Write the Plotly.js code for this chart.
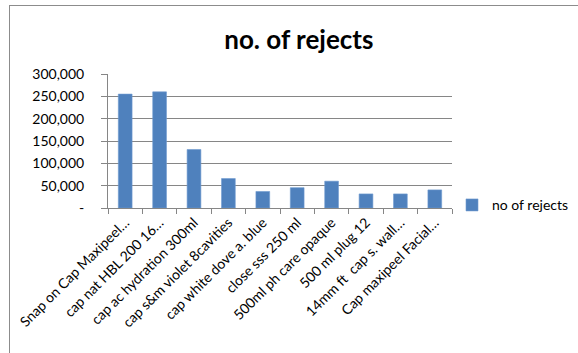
<!DOCTYPE html>
<html>
<head>
<meta charset="utf-8">
<script src="https://cdn.plot.ly/plotly-3.0.1.min.js"></script>
<style>
  html, body { margin: 0; padding: 0; background: #ffffff; }
  #wrap { position: relative; width: 578px; height: 353px; overflow: hidden; }
  #chart { position: absolute; left: 0; top: 0; width: 578px; height: 353px; }
  #frame { position: absolute; left: 9px; top: 5px; width: 700px; height: 500px;
           border-left: 1px solid #8c8c8c; border-top: 1px solid #8c8c8c; pointer-events: none; }
</style>
</head>
<body>
<div id="wrap">
  <div id="chart"></div>
  <div id="frame"></div>
</div>
<script>
// Reject counts per part
const categories = [
  "Snap on Cap Maxipeel…",
  "cap nat HBL 200 16…",
  "cap ac hydration 300ml",
  "cap s&m violet 8cavities",
  "cap white dove a. blue",
  "close sss 250 ml",
  "500ml ph care opaque",
  "500 ml plug 12",
  "14mm ft  cap s. wall…",
  "Cap maxipeel Facial…"
];
const rejects = [255000, 260000, 131000, 66000, 37000, 45500, 60000, 31500, 31500, 40500];
const seriesName = "no of rejects";
const yTickVals = [0, 50000, 100000, 150000, 200000, 250000, 300000];
const yTickText = ["-", "50,000", "100,000", "150,000", "200,000", "250,000", "300,000"];

const font = "Lato, 'Open Sans', sans-serif";

const trace = {
  type: "bar",
  x: categories,
  y: rejects,
  name: seriesName,
  marker: { color: "#4f81bd", line: { color: "#6f9bd0", width: 0.6 } },
  showlegend: true,
  hoverinfo: "x+y"
};

const layout = {
  width: 578,
  height: 353,
  margin: { l: 108, r: 126, t: 74, b: 145, pad: 0, autoexpand: false },
  paper_bgcolor: "#ffffff",
  plot_bgcolor: "#ffffff",
  font: { family: font, size: 14, color: "#000000" },
  bargap: 0.6,
  title: {
    text: "no. of rejects",
    font: { family: font, size: 26, color: "#000000", weight: "bold" },
    xref: "container", x: 0.517, xanchor: "center",
    yref: "container", y: 0.887, yanchor: "middle"
  },
  xaxis: {
    type: "category",
    tickangle: -45,
    tickfont: { family: font, size: 14, color: "#000000" },
    showline: true, linecolor: "#868686", linewidth: 1,
    ticks: "outside", ticklen: 5, tickcolor: "#868686",
    tickson: "boundaries",
    showgrid: false,
    zeroline: false,
    automargin: false
  },
  yaxis: {
    range: [0, 300000],
    tickvals: yTickVals,
    ticktext: yTickText,
    tickfont: { family: font, size: 14, color: "#000000" },
    ticklabelstandoff: 14,
    showline: true, linecolor: "#868686", linewidth: 1,
    ticks: "outside", ticklen: 6, tickcolor: "#868686",
    showgrid: true, gridcolor: "#868686", gridwidth: 1,
    zeroline: false,
    automargin: false
  },
  legend: {
    x: 1.0, xanchor: "left",
    y: 0.02, yanchor: "middle",
    font: { family: font, size: 14, color: "#000000" },
    bgcolor: "rgba(0,0,0,0)",
    itemwidth: 30
  },
  showlegend: true
};

Plotly.newPlot("chart", [trace], layout, { displayModeBar: false, staticPlot: true });
</script>
</body>
</html>
